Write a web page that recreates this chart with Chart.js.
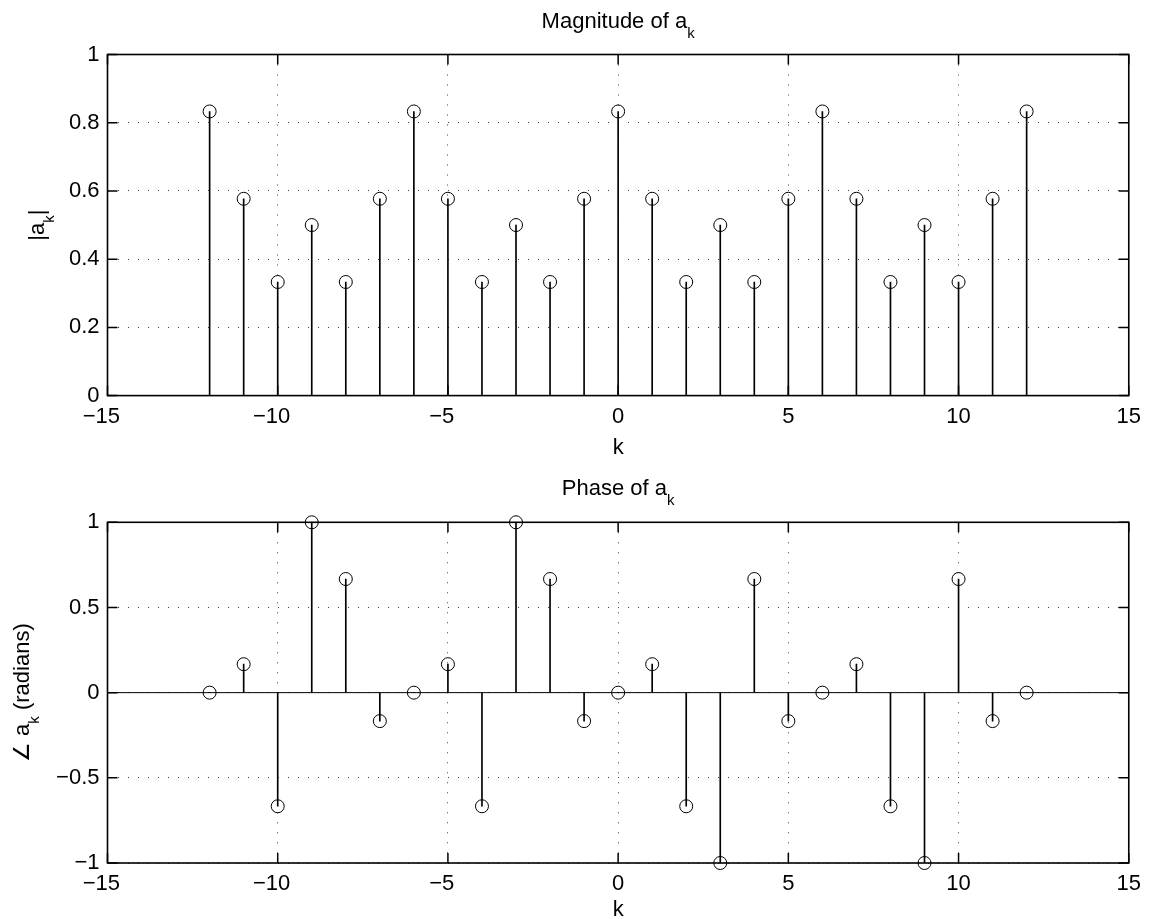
<!DOCTYPE html>
<html>
<head>
<meta charset="utf-8">
<script src="https://cdn.jsdelivr.net/npm/chart.js@4.4.1/dist/chart.umd.min.js"></script>
<style>
html, body { margin: 0; padding: 0; background: #fff; overflow: hidden; }
#wrap { position: relative; width: 1149px; height: 919px; overflow: hidden; background: #fff; }
canvas { position: absolute; left: 0; }
#top { top: 0; }
#bottom { top: 461px; }
</style>
</head>
<body>
<div id="wrap">
  <canvas id="top" width="1149" height="461"></canvas>
  <canvas id="bottom" width="1149" height="470"></canvas>
</div>
<script>
// data
var k = [-12, -11, -10, -9, -8, -7, -6, -5, -4, -3, -2, -1, 0, 1, 2, 3, 4, 5, 6, 7, 8, 9, 10, 11, 12];
var magnitude = [0.833, 0.577, 0.333, 0.5, 0.333, 0.577, 0.833, 0.577, 0.333, 0.5, 0.333, 0.577, 0.833,
                 0.577, 0.333, 0.5, 0.333, 0.577, 0.833, 0.577, 0.333, 0.5, 0.333, 0.577, 0.833];
var phase = [0, 0.167, -0.667, 1, 0.667, -0.167, 0, 0.167, -0.667, 1, 0.667, -0.167, 0,
             0.167, -0.667, -1, 0.667, -0.167, 0, 0.167, -0.667, -1, 0.667, -0.167, 0];
var kRange = [-15, 15];
var kTicks = [-15, -10, -5, 0, 5, 10, 15];
var magTicks = [0, 0.2, 0.4, 0.6, 0.8, 1];
var phaseTicks = [-1, -0.5, 0, 0.5, 1];

// texts (second item true = subscript)
var magTitle = [['Magnitude of a', false], ['k', true]];
var magLabel = [['|a', false], ['k', true], ['|', false]];
var phaseTitle = [['Phase of a', false], ['k', true]];
var phaseLabel = [['\u2220 a', false], ['k', true], [' (radians)', false]];

var FAMILY = '"Liberation Sans", Arial, Helvetica, sans-serif';
var MAIN = '22px ' + FAMILY;
var SUB = '15px ' + FAMILY;
var GRID = 'rgba(0,0,0,0.75)';

Chart.defaults.font.family = FAMILY;
Chart.defaults.font.size = 22;
Chart.defaults.color = '#000';

function fmt(v) {
    return String(v).replace('-', '\u2212');
}
// matlab centres the digits and lets the minus hang to the left
function fmtX(v) {
    return v < 0 ? fmt(v) + '\u2007' : fmt(v);
}

function drawRich(ctx, parts, x, y) {
    var widths = parts.map(function (p) {
        ctx.font = p[1] ? SUB : MAIN;
        return ctx.measureText(p[0]).width;
    });
    var total = widths.reduce(function (a, b) { return a + b; }, 0);
    var cx = x - total / 2;
    ctx.textAlign = 'left';
    ctx.textBaseline = 'alphabetic';
    parts.forEach(function (p, i) {
        ctx.font = p[1] ? SUB : MAIN;
        ctx.fillText(p[0], cx, y + (p[1] ? 9.5 : 0));
        cx += widths[i];
    });
}

// box, inward ticks, title and y label like a matlab axes
var matlabAxes = {
    id: 'matlabAxes',
    afterDraw: function (chart, args, opts) {
        var ctx = chart.ctx;
        var a = chart.chartArea;
        var xs = chart.scales.x, ys = chart.scales.y;
        var len = 10;
        ctx.save();
        ctx.strokeStyle = '#000';
        ctx.lineWidth = 1.5;
        ctx.beginPath();
        xs.ticks.forEach(function (t) {
            var px = xs.getPixelForValue(t.value);
            ctx.moveTo(px, a.bottom); ctx.lineTo(px, a.bottom - len);
            ctx.moveTo(px, a.top); ctx.lineTo(px, a.top + len);
        });
        ys.ticks.forEach(function (t) {
            var py = ys.getPixelForValue(t.value);
            ctx.moveTo(a.left, py); ctx.lineTo(a.left + len, py);
            ctx.moveTo(a.right, py); ctx.lineTo(a.right - len, py);
        });
        ctx.stroke();
        ctx.lineWidth = 1.6;
        ctx.strokeRect(a.left, a.top, a.right - a.left, a.bottom - a.top);

        ctx.fillStyle = '#000';
        drawRich(ctx, opts.title, (a.left + a.right) / 2, opts.titleY);
        ctx.translate(opts.labelX, (a.top + a.bottom) / 2);
        ctx.rotate(-Math.PI / 2);
        drawRich(ctx, opts.label, 0, 0);
        ctx.restore();
    }
};

function stemChart(id, values, yTicks, pad, xHeight, title, titleY, label, labelX) {
    var pts = k.map(function (x, i) { return { x: x, y: values[i] }; });
    return new Chart(document.getElementById(id), {
        type: 'bar',
        data: {
            datasets: [{
                type: 'scatter',
                data: pts,
                pointRadius: 6.5,
                pointBorderWidth: 1,
                borderColor: '#000',
                backgroundColor: 'rgba(0,0,0,0)',
                clip: false,
                order: 1
            }, {
                type: 'bar',
                data: pts,
                backgroundColor: '#000',
                borderWidth: 0,
                barThickness: 1,
                order: 2
            }, {
                type: 'line',
                data: [{ x: kRange[0], y: 0 }, { x: kRange[1], y: 0 }],
                borderColor: '#000',
                borderWidth: 1,
                pointRadius: 0,
                order: 3
            }]
        },
        options: {
            responsive: false,
            animation: false,
            events: [],
            layout: { padding: pad },
            plugins: {
                legend: { display: false },
                tooltip: { enabled: false },
                matlabAxes: { title: title, titleY: titleY, label: label, labelX: labelX }
            },
            scales: {
                x: {
                    type: 'linear',
                    min: kRange[0],
                    max: kRange[1],
                    offset: false,
                    afterBuildTicks: function (s) { s.ticks = kTicks.map(function (v) { return { value: v }; }); },
                    afterFit: function (s) { s.height = xHeight; },
                    ticks: { padding: 8, maxRotation: 0, autoSkip: false, callback: fmtX },
                    grid: { color: GRID, lineWidth: 1, drawTicks: false, offset: false },
                    border: { display: false, dash: [1, 9] },
                    title: { display: true, text: 'k', padding: 0 }
                },
                y: {
                    type: 'linear',
                    min: yTicks[0],
                    max: yTicks[yTicks.length - 1],
                    afterBuildTicks: function (s) { s.ticks = yTicks.map(function (v) { return { value: v }; }); },
                    afterFit: function (s) { s.width = 107.5; },
                    ticks: { padding: 8, autoSkip: false, callback: fmt },
                    grid: { color: GRID, lineWidth: 1, drawTicks: false },
                    border: { display: false, dash: [1, 9] }
                }
            }
        },
        plugins: [matlabAxes]
    });
}

stemChart('top', magnitude, magTicks, { top: 54.5, right: 18, bottom: 0, left: 0 }, 65.4,
          magTitle, 28, magLabel, 44);
stemChart('bottom', phase, phaseTicks, { top: 61.3, right: 18, bottom: 7.4, left: 0 }, 60.6,
          phaseTitle, 34, phaseLabel, 29);
</script>
</body>
</html>
